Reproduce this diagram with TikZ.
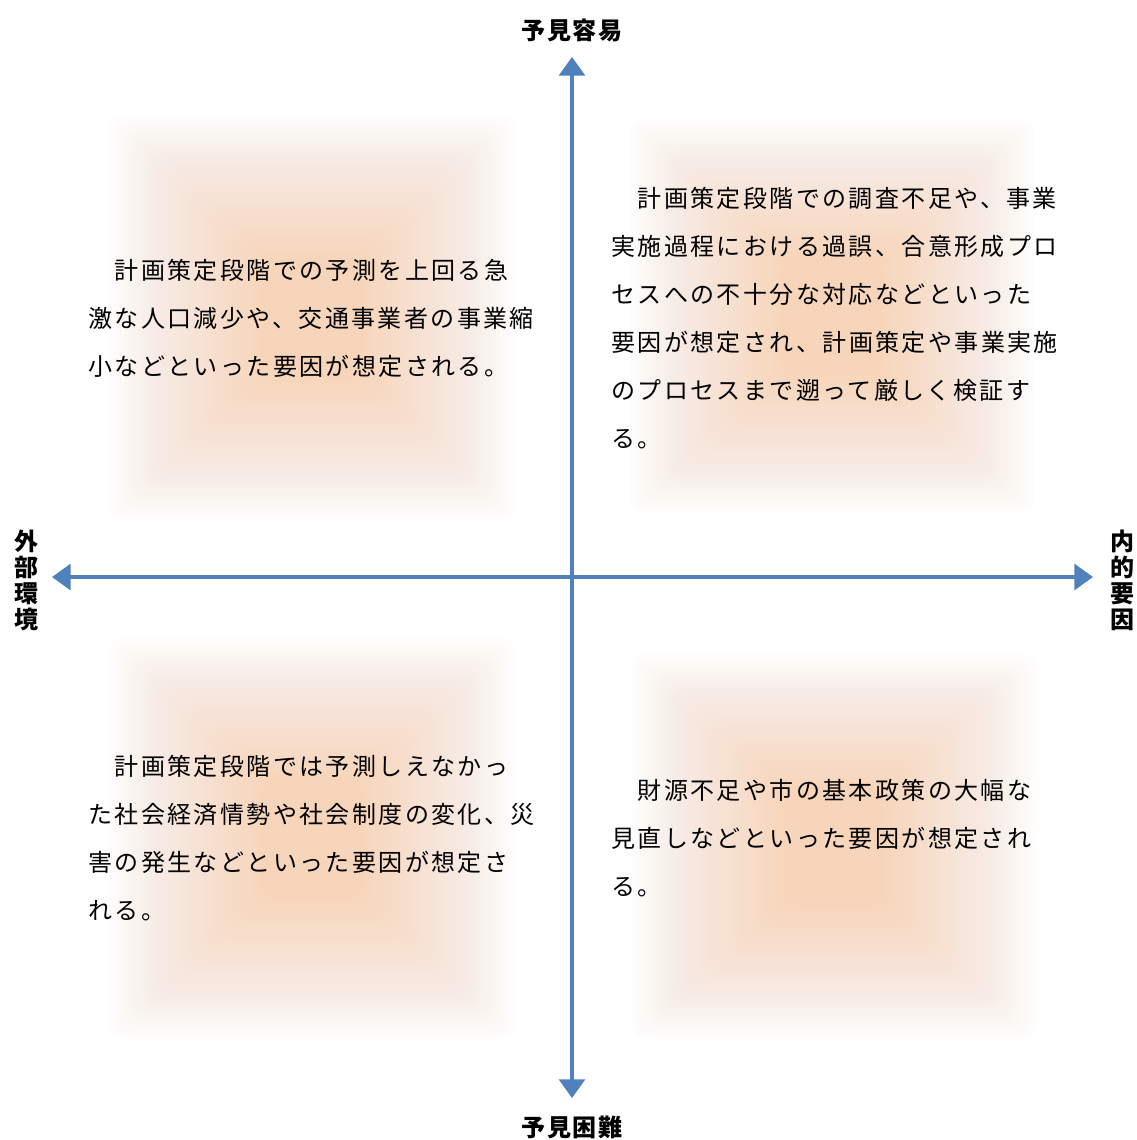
\documentclass[tikz,border=0pt]{standalone}
\usepackage{fontspec}
\usetikzlibrary{arrows.meta}
\newfontfamily\jp[LetterSpace=10]{Noto Sans CJK JP}
\newfontfamily\jplab[LetterSpace=8]{Noto Sans CJK JP}
\definecolor{axisblue}{HTML}{4F81BD}
\definecolor{glowc}{HTML}{F79646}
\newcommand\glowbox[4]{%
  \foreach \i in {0,...,31}{%
    \pgfmathsetmacro\hw{#3-\i*(#3-50)/31}%
    \pgfmathsetmacro\hh{#4-\i*(#4-60)/31}%
    \fill[glowc, opacity=0.0115, rounded corners=10pt] ({#1-\hw},{#2-\hh}) rectangle ({#1+\hw},{#2+\hh});
  }}
\tikzset{
  body/.style={font={\jp\fontsize{18}{36}\selectfont}, align=left, inner sep=0pt, anchor=west, text=black},
  lab/.style={font={\jplab\bfseries\fontsize{18}{19.5}\selectfont}, align=center, inner sep=0pt, text=black},
  axis/.style={draw=axisblue, line width=2.3pt,
    {Triangle[width=19.5pt,length=14pt]}-{Triangle[width=19.5pt,length=14pt]}}
}
\begin{document}
\begin{tikzpicture}[x=0.75pt,y=-0.75pt]
\useasboundingbox (0,0) rectangle (1137,1140);
\fill[white] (0,0) rectangle (1137,1140);
% glows
\glowbox{312}{318}{203}{202}
\glowbox{832}{316}{202}{196}
\glowbox{312}{838}{203}{200}
\glowbox{834}{846}{202}{192}
% axes
\coordinate (n) at (572,57);
\coordinate (s) at (572,1098);
\coordinate (w) at (52,577);
\coordinate (e) at (1093,577);
\draw[axis] (s) -- (n);
\draw[axis] (w) -- (e);
% labels
\node[lab] (ltop) at (572,30) {予見容易};
\node[lab] (lbot) at (572,1127) {予見困難};
\node[lab] (lleft) at (26,580) {外\\部\\環\\境};
\node[lab] (lright) at (1122,580) {内\\的\\要\\因};
% texts
\node[body] (tl) at (88,318) {　計画策定段階での予測を上回る急\\激な人口減少や、交通事業者の事業縮\\小などといった要因が想定される。};
\node[body] (tr) at (611,318) {　計画策定段階での調査不足や、事業\\実施過程における過誤、合意形成プロ\\セスへの不十分な対応などといった\\要因が想定され、計画策定や事業実施\\のプロセスまで遡って厳しく検証す\\る。};
\node[body] (bl) at (88,838) {　計画策定段階では予測しえなかっ\\た社会経済情勢や社会制度の変化、災\\害の発生などといった要因が想定さ\\れる。};
\node[body] (br) at (611,838) {　財源不足や市の基本政策の大幅な\\見直しなどといった要因が想定され\\る。};
\end{tikzpicture}
\end{document}
